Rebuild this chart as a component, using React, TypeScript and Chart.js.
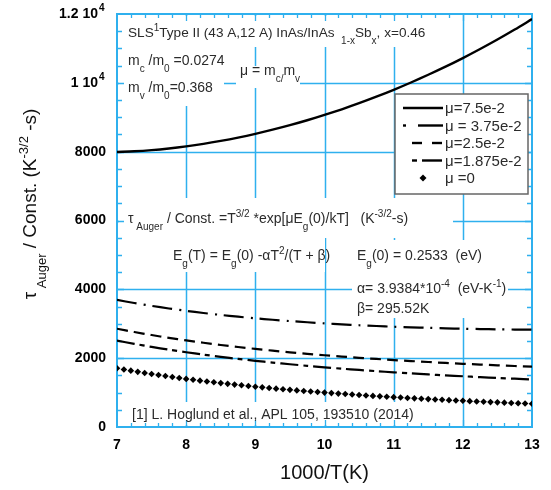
import React, { useEffect, useRef } from 'react';
import { Chart, registerables } from 'chart.js';
Chart.register(...registerables);

// ---------- data ----------
const xLine = [7, 7.25, 7.5, 7.75, 8, 8.25, 8.5, 8.75, 9, 9.25, 9.5, 9.75, 10, 10.25, 10.5, 10.75, 11, 11.25, 11.5, 11.75, 12, 12.25, 12.5, 12.75, 13];
const mu075 = [7990, 8010, 8044, 8092, 8153, 8226, 8312, 8409, 8518, 8639, 8770, 8913, 9067, 9232, 9408, 9597, 9797, 10010, 10234, 10469, 10719, 10982, 11257, 11547, 11852];
const mu0375 = [3694, 3602, 3519, 3444, 3375, 3313, 3257, 3205, 3158, 3116, 3078, 3043, 3011, 2983, 2957, 2934, 2914, 2896, 2881, 2867, 2855, 2846, 2838, 2832, 2828];
const mu025 = [2856, 2760, 2672, 2590, 2516, 2447, 2383, 2324, 2269, 2218, 2171, 2126, 2085, 2047, 2011, 1977, 1945, 1916, 1888, 1862, 1837, 1815, 1793, 1773, 1754];
const mu01875 = [2511, 2416, 2328, 2247, 2172, 2103, 2038, 1979, 1923, 1872, 1823, 1778, 1735, 1695, 1658, 1623, 1589, 1558, 1528, 1500, 1474, 1449, 1425, 1403, 1381];
const xDots = [7.0, 7.1, 7.2, 7.3, 7.4, 7.5, 7.6, 7.7, 7.8, 7.9, 8.0, 8.1, 8.2, 8.3, 8.4, 8.5, 8.6, 8.7, 8.8, 8.9, 9.0, 9.1, 9.2, 9.3, 9.4, 9.5, 9.6, 9.7, 9.8, 9.9, 10.0, 10.1, 10.2, 10.3, 10.4, 10.5, 10.6, 10.7, 10.8, 10.9, 11.0, 11.1, 11.2, 11.3, 11.4, 11.5, 11.6, 11.7, 11.8, 11.9, 12.0, 12.1, 12.2, 12.3, 12.4, 12.5, 12.6, 12.7, 12.8, 12.9, 13.0];
const mu0 = [1707, 1672, 1637, 1603, 1571, 1540, 1509, 1480, 1452, 1424, 1398, 1372, 1347, 1322, 1299, 1276, 1254, 1232, 1211, 1191, 1171, 1152, 1133, 1115, 1097, 1080, 1063, 1047, 1031, 1015, 1000, 985, 971, 957, 943, 929, 916, 904, 891, 879, 867, 855, 844, 833, 822, 811, 800, 790, 780, 770, 761, 751, 742, 733, 724, 716, 707, 699, 691, 683, 675];

const xTickLabels = ['7', '8', '9', '10', '11', '12', '13'];
const xTickValues = [7, 8, 9, 10, 11, 12, 13];
const yTickValues = [0, 2000, 4000, 6000, 8000, 10000, 12000];
const yTickLabels: [string, string][] = [['0', ''], ['2000', ''], ['4000', ''], ['6000', ''], ['8000', ''], ['1 10', '4'], ['1.2 10', '4']];
const legendLabels = ['\u03bc=7.5e-2', '\u03bc = 3.75e-2', '\u03bc=2.5e-2', '\u03bc=1.875e-2', '\u03bc =0'];

// ---------- styling ----------
const BLUE = '#2fb0ee';
const FONT = '"Liberation Sans", Arial, Helvetica, sans-serif';
const TXT = '#2b2b2b';

type Seg = [string, number]; // 0 normal, 1 sub, -1 sup

function richWidth(ctx: CanvasRenderingContext2D, segs: Seg[], size: number, weight = 'normal') {
  let w = 0;
  for (const [t, m] of segs) {
    const fs = m === 0 ? size : Math.round(size * 0.7);
    ctx.font = `${weight} ${fs}px ${FONT}`;
    w += ctx.measureText(t).width;
  }
  return w;
}
function rich(ctx: CanvasRenderingContext2D, x: number, y: number, segs: Seg[], size: number, weight = 'normal') {
  let cx = x;
  ctx.textAlign = 'left';
  ctx.textBaseline = 'alphabetic';
  for (const [t, m] of segs) {
    const fs = m === 0 ? size : Math.round(size * 0.7);
    ctx.font = `${weight} ${fs}px ${FONT}`;
    const dy = m === 1 ? size * 0.5 : m === -1 ? -size * 0.42 : 0;
    ctx.fillText(t, cx, y + dy);
    cx += ctx.measureText(t).width;
  }
  return cx - x;
}

const whiteBoxes = [
  [119, 16, 440, 47],
  [119, 47, 224, 106],
  [236, 66, 300, 88],
  [119, 198, 453, 238],
  [168, 238, 325, 272],
  [352, 240, 486, 272],
  [352, 272, 508, 318],
  [125, 402, 418, 425],
];

const decor = {
  id: 'decor',
  beforeDatasetsDraw(chart: any) {
    const { ctx, chartArea: a, scales } = chart;
    const xs = scales.x, ys = scales.y;
    ctx.save();
    ctx.strokeStyle = BLUE;
    ctx.lineWidth = 1.5;
    ctx.beginPath();
    for (let v = 8; v <= 12; v++) {
      const px = Math.round(xs.getPixelForValue(v)) + 0.5;
      ctx.moveTo(px, a.top); ctx.lineTo(px, a.bottom);
    }
    for (let v = 2000; v <= 10000; v += 2000) {
      const py = Math.round(ys.getPixelForValue(v)) + 0.5;
      ctx.moveTo(a.left, py); ctx.lineTo(a.right, py);
    }
    ctx.stroke();
    ctx.fillStyle = '#fff';
    for (const [x1, y1, x2, y2] of whiteBoxes) ctx.fillRect(x1, y1, x2 - x1, y2 - y1);
    ctx.strokeStyle = BLUE;
    ctx.lineWidth = 1.3;
    ctx.beginPath();
    for (let i = 1; i < 30; i++) {
      const v = 7 + i * 0.2;
      const px = Math.round(xs.getPixelForValue(v)) + 0.5;
      const len = i % 5 === 0 ? 7 : 4;
      ctx.moveTo(px, a.bottom); ctx.lineTo(px, a.bottom - len);
      ctx.moveTo(px, a.top); ctx.lineTo(px, a.top + len);
    }
    for (let i = 1; i < 24; i++) {
      const v = i * 500;
      const py = Math.round(ys.getPixelForValue(v)) + 0.5;
      const len = i % 4 === 0 ? 7 : 5;
      ctx.moveTo(a.left, py); ctx.lineTo(a.left + len, py);
      ctx.moveTo(a.right, py); ctx.lineTo(a.right - len, py);
    }
    ctx.stroke();
    ctx.lineWidth = 2;
    ctx.strokeRect(a.left, a.top, a.right - a.left, a.bottom - a.top);
    ctx.restore();
  },
  afterDatasetsDraw(chart: any) {
    const { ctx, chartArea: a, scales } = chart;
    const xs = scales.x, ys = scales.y;
    ctx.save();
    ctx.fillStyle = '#000';
    ctx.font = `bold 14px ${FONT}`;
    ctx.textAlign = 'center';
    ctx.textBaseline = 'top';
    xTickValues.forEach((v, i) => ctx.fillText(xTickLabels[i], xs.getPixelForValue(v), a.bottom + 11));
    yTickValues.forEach((v, i) => {
      const py = ys.getPixelForValue(v);
      const [main, sup] = yTickLabels[i];
      ctx.textBaseline = 'middle';
      ctx.font = `bold 14px ${FONT}`;
      if (!sup) {
        ctx.textAlign = 'right';
        ctx.fillText(main, a.left - 11, py);
      } else {
        ctx.textAlign = 'right';
        ctx.fillText(main, a.left - 19, py);
        ctx.textAlign = 'left';
        ctx.font = `bold 10px ${FONT}`;
        ctx.fillText(sup, a.left - 18, py - 6);
      }
    });
    ctx.fillStyle = '#111';
    ctx.font = `20px ${FONT}`;
    ctx.textAlign = 'center';
    ctx.textBaseline = 'alphabetic';
    ctx.fillText('1000/T(K)', (a.left + a.right) / 2, 479);
    const ySegs: Seg[] = [['\u03c4', 0], [' Auger', 1], [' / Const. (K', 0], ['-3/2', -1], [' -s)', 0]];
    ctx.save();
    ctx.translate(36, 204);
    ctx.rotate(-Math.PI / 2);
    const yw = richWidth(ctx, ySegs, 19);
    rich(ctx, -yw / 2, 0, ySegs, 19);
    ctx.restore();

    ctx.fillStyle = TXT;
    rich(ctx, 128, 37, [['SLS', 0], ['1', -1], ['Type II (43 A,12 A) InAs/InAs ', 0], [' 1-x', 1], ['Sb', 0], ['x', 1], [', x=0.46', 0]], 13.6);
    rich(ctx, 128, 65, [['m', 0], ['c', 1], [' /m', 0], ['0', 1], [' =0.0274', 0]], 14);
    rich(ctx, 128, 92, [['m', 0], ['v', 1], [' /m', 0], ['0', 1], ['=0.368', 0]], 14);
    rich(ctx, 240, 75, [['\u03bc = m', 0], ['c/', 1], ['m', 0], ['v', 1]], 14);
    rich(ctx, 128, 223, [['\u03c4', 0], [' Auger', 1], [' / Const. =T', 0], ['3/2', -1], [' *exp[\u03bcE', 0], ['g', 1], ['(0)/kT]   (K', 0], ['-3/2', -1], ['-s)', 0]], 14);
    rich(ctx, 173, 260, [['E', 0], ['g', 1], ['(T) = E', 0], ['g', 1], ['(0) -\u03b1T', 0], ['2', -1], ['/(T + \u03b2)', 0]], 14);
    rich(ctx, 357, 260, [['E', 0], ['g', 1], ['(0) = 0.2533  (eV)', 0]], 14);
    rich(ctx, 357, 293, [['\u03b1= 3.9384*10', 0], ['-4', -1], ['  (eV-K', 0], ['-1', -1], [')', 0]], 14);
    rich(ctx, 357, 313, [['\u03b2= 295.52K', 0]], 14);
    rich(ctx, 132, 419, [['[1] L. Hoglund et al., APL 105, 193510 (2014)', 0]], 14);

    const L = { x1: 395, y1: 94, x2: 528, y2: 194 };
    ctx.fillStyle = '#fff';
    ctx.fillRect(L.x1, L.y1, L.x2 - L.x1, L.y2 - L.y1);
    ctx.strokeStyle = '#666';
    ctx.lineWidth = 1.5;
    ctx.strokeRect(L.x1, L.y1, L.x2 - L.x1, L.y2 - L.y1);
    const rows = [108, 125.5, 143, 160.5, 178];
    ctx.strokeStyle = '#000';
    ctx.lineWidth = 2.4;
    const seg = (x1: number, x2: number, y: number) => { ctx.beginPath(); ctx.moveTo(x1, y); ctx.lineTo(x2, y); ctx.stroke(); };
    seg(403, 443, rows[0]);
    seg(403, 406, rows[1]); seg(418, 443, rows[1]);
    seg(412, 422, rows[2]); seg(432, 442, rows[2]);
    seg(412, 417, rows[3]); seg(422, 442, rows[3]);
    ctx.fillStyle = '#000';
    ctx.beginPath();
    ctx.moveTo(423, rows[4] - 3.5); ctx.lineTo(426.5, rows[4]); ctx.lineTo(423, rows[4] + 3.5); ctx.lineTo(419.5, rows[4]); ctx.closePath();
    ctx.fill();
    ctx.fillStyle = TXT;
    ctx.font = `15px ${FONT}`;
    ctx.textAlign = 'left';
    ctx.textBaseline = 'middle';
    legendLabels.forEach((t, i) => ctx.fillText(t, 445, rows[i] + 1));
    ctx.restore();
  },
};

export default function App() {
  const ref = useRef<HTMLCanvasElement>(null);
  useEffect(() => {
    const canvas = ref.current!;
    const toPts = (xsArr: number[], ysArr: number[]) => xsArr.map((x, i) => ({ x, y: ysArr[i] }));
    const chart = new Chart(canvas, {
      type: 'line',
      data: {
        datasets: [
          { label: legendLabels[0], data: toPts(xLine, mu075), borderColor: '#000', borderWidth: 2.4, pointRadius: 0, fill: false, tension: 0.3 },
          { label: legendLabels[1], data: toPts(xLine, mu0375), borderColor: '#000', borderWidth: 2.2, pointRadius: 0, fill: false, tension: 0.3, borderDash: [20, 7, 2, 7] },
          { label: legendLabels[2], data: toPts(xLine, mu025), borderColor: '#000', borderWidth: 2.2, pointRadius: 0, fill: false, tension: 0.3, borderDash: [11, 6] },
          { label: legendLabels[3], data: toPts(xLine, mu01875), borderColor: '#000', borderWidth: 2.2, pointRadius: 0, fill: false, tension: 0.3, borderDash: [18, 5, 5, 5] },
          { label: legendLabels[4], data: toPts(xDots, mu0), showLine: false, pointStyle: 'rectRot', pointRadius: 3.3, backgroundColor: '#000', borderColor: '#000', borderWidth: 0 },
        ],
      },
      options: {
        responsive: false,
        animation: false,
        devicePixelRatio: 1,
        layout: { padding: { left: 117, right: 19, top: 14, bottom: 63 } },
        scales: {
          x: { type: 'linear', min: 7, max: 13, display: false },
          y: { type: 'linear', min: 0, max: 12000, display: false },
        },
        plugins: { legend: { display: false }, tooltip: { enabled: false } },
      },
      plugins: [decor],
    } as any);
    return () => chart.destroy();
  }, []);
  return (
    <div style={{ position: 'absolute', left: 0, top: 0, width: 551, height: 490, background: '#fff' }}>
      <canvas ref={ref} width={551} height={490} style={{ display: 'block' }} />
    </div>
  );
}
